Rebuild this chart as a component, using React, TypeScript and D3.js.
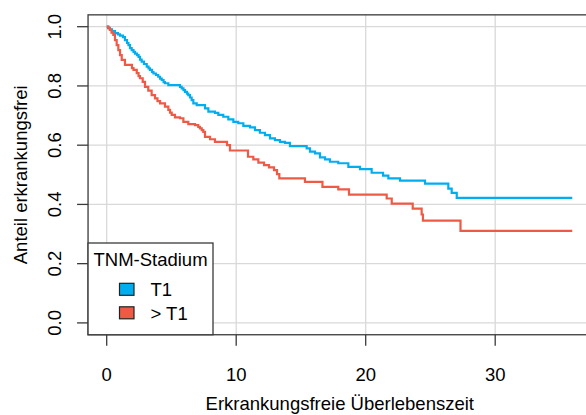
import React from "react";
import * as d3 from "d3";

// Kaplan-Meier step estimates: time of each drop and survival after it
const t1Times = [0.10, 0.25, 0.41, 0.64, 0.87, 1.03, 1.26, 1.41, 1.57, 1.68, 1.80, 1.93, 2.07, 2.19, 2.34, 2.46, 2.57, 2.70, 2.88, 3.09, 3.23, 3.34, 3.50, 3.61, 3.81, 3.98, 4.12, 4.25, 4.39, 4.50, 4.76, 5.66, 5.79, 5.93, 6.05, 6.20, 6.30, 6.43, 6.56, 6.69, 6.95, 7.59, 7.85, 8.36, 8.62, 9.00, 9.39, 9.78, 10.16, 10.55, 11.07, 11.45, 11.83, 12.22, 12.61, 12.99, 13.38, 13.77, 14.15, 15.44, 15.70, 16.09, 16.47, 16.86, 17.24, 17.88, 18.66, 19.56, 20.46, 21.34, 21.75, 22.65, 24.58, 26.38, 26.64, 27.03];
const t1Surv = [0.996, 0.991, 0.985, 0.978, 0.974, 0.970, 0.965, 0.955, 0.945, 0.938, 0.928, 0.921, 0.915, 0.909, 0.904, 0.898, 0.889, 0.882, 0.874, 0.865, 0.859, 0.854, 0.847, 0.842, 0.837, 0.831, 0.825, 0.820, 0.813, 0.809, 0.803, 0.797, 0.792, 0.786, 0.780, 0.774, 0.769, 0.761, 0.752, 0.741, 0.735, 0.724, 0.713, 0.709, 0.702, 0.696, 0.687, 0.679, 0.674, 0.665, 0.660, 0.651, 0.642, 0.634, 0.623, 0.617, 0.611, 0.608, 0.597, 0.589, 0.578, 0.572, 0.559, 0.552, 0.544, 0.539, 0.527, 0.519, 0.507, 0.497, 0.488, 0.480, 0.470, 0.453, 0.439, 0.422];

const gtT1Times = [0.14, 0.25, 0.37, 0.51, 0.64, 0.77, 0.90, 1.03, 1.16, 1.41, 1.95, 2.07, 2.32, 2.46, 2.57, 2.78, 2.96, 3.21, 3.47, 3.73, 3.92, 4.12, 4.50, 4.76, 4.89, 5.02, 5.27, 5.66, 5.92, 6.30, 6.82, 7.07, 7.20, 7.34, 7.46, 7.59, 7.98, 8.36, 9.29, 9.52, 10.91, 11.32, 11.71, 12.15, 12.53, 12.92, 13.15, 13.33, 15.31, 16.66, 17.88, 18.71, 21.62, 22.01, 23.63, 24.32, 24.42, 27.32];
const gtT1Surv = [0.994, 0.989, 0.980, 0.972, 0.955, 0.938, 0.921, 0.904, 0.888, 0.871, 0.860, 0.854, 0.843, 0.833, 0.826, 0.814, 0.797, 0.784, 0.769, 0.758, 0.749, 0.741, 0.730, 0.719, 0.710, 0.702, 0.694, 0.691, 0.679, 0.671, 0.668, 0.662, 0.657, 0.651, 0.645, 0.628, 0.620, 0.611, 0.600, 0.582, 0.561, 0.552, 0.541, 0.533, 0.525, 0.516, 0.502, 0.488, 0.476, 0.459, 0.451, 0.433, 0.420, 0.403, 0.386, 0.366, 0.345, 0.311];

const followUpEnd = 35.95;

const groupNames = ["T1", "> T1"];
const groupColors = ["#00AEEF", "#EE5A45"];
const xTicks = [0, 10, 20, 30];
const yTicks = [0, 0.2, 0.4, 0.6, 0.8, 1.0];

const W = 586;
const H = 415;
const FONT = "'Liberation Sans', Arial, sans-serif";
const FS = 18.5;

export default function App() {
  const x = d3.scaleLinear().domain([0, 36]).range([106.7, 572.9]);
  const y = d3.scaleLinear().domain([0, 1]).range([322.9, 26.7]);
  const box = { left: x(-1.44), right: x(37.44), top: y(1.04), bottom: y(-0.04) };

  const toPoints = (times: number[], surv: number[]) => {
    const pts: [number, number][] = [[0, 1]];
    times.forEach((t, i) => pts.push([t, surv[i]]));
    pts.push([followUpEnd, surv[surv.length - 1]]);
    return pts;
  };
  const series = [toPoints(t1Times, t1Surv), toPoints(gtT1Times, gtT1Surv)];

  const line = d3
    .line<[number, number]>()
    .x((d) => x(d[0]))
    .y((d) => y(d[1]))
    .curve(d3.curveStepAfter);

  const axisColor = "#3a3a3a";
  const gridColor = "#d9d9d9";

  const legend = { left: box.left, right: 213, top: 243, bottom: box.bottom };

  return (
    <svg
      width={W}
      height={H}
      style={{ position: "absolute", left: 0, top: 0, background: "#fff" }}
      fontFamily={FONT}
    >
      <rect x={0} y={0} width={W} height={H} fill="#fff" />
      {/* grid */}
      {xTicks.map((t) => (
        <line key={"gx" + t} x1={x(t)} x2={x(t)} y1={box.top} y2={box.bottom} stroke={gridColor} strokeWidth={1.3} />
      ))}
      {yTicks.map((t) => (
        <line key={"gy" + t} x1={box.left} x2={box.right} y1={y(t)} y2={y(t)} stroke={gridColor} strokeWidth={1.3} />
      ))}

      {/* survival curves */}
      {series.map((pts, i) => (
        <path key={i} d={line(pts) || ""} fill="none" stroke={groupColors[i]} strokeWidth={2.2} />
      ))}

      {/* plot frame */}
      <rect
        x={box.left}
        y={box.top}
        width={box.right - box.left}
        height={box.bottom - box.top}
        fill="none"
        stroke={axisColor}
        strokeWidth={1.3}
      />

      {/* x axis */}
      {xTicks.map((t) => (
        <g key={"xt" + t}>
          <line x1={x(t)} x2={x(t)} y1={box.bottom} y2={box.bottom + 11} stroke={axisColor} strokeWidth={1.3} />
          <text x={x(t)} y={380.7} textAnchor="middle" fontSize={FS} fill="#000">
            {t}
          </text>
        </g>
      ))}
      <text x={(box.left + box.right) / 2} y={410} textAnchor="middle" fontSize={FS} fill="#000">
        Erkrankungsfreie Überlebenszeit
      </text>

      {/* y axis */}
      {yTicks.map((t) => (
        <g key={"yt" + t}>
          <line x1={box.left - 11} x2={box.left} y1={y(t)} y2={y(t)} stroke={axisColor} strokeWidth={1.3} />
          <text
            transform={`translate(61,${y(t)}) rotate(-90)`}
            textAnchor="middle"
            fontSize={FS}
            fill="#000"
          >
            {t.toFixed(1)}
          </text>
        </g>
      ))}
      <text
        transform={`translate(27,${(box.top + box.bottom) / 2}) rotate(-90)`}
        textAnchor="middle"
        fontSize={FS}
        fill="#000"
      >
        Anteil erkrankungsfrei
      </text>

      {/* legend */}
      <rect
        x={legend.left}
        y={legend.top}
        width={legend.right - legend.left}
        height={legend.bottom - legend.top}
        fill="#fff"
        stroke={axisColor}
        strokeWidth={1.3}
      />
      <text x={(legend.left + legend.right) / 2} y={266} textAnchor="middle" fontSize={FS} fill="#000">
        TNM-Stadium
      </text>
      {groupNames.map((g, i) => (
        <g key={g}>
          <rect x={119.5} y={283.3 + i * 23.5} width={14.5} height={12} fill={groupColors[i]} stroke="#222" strokeWidth={1.2} />
          <text x={150.5} y={295.7 + i * 23.8} fontSize={FS} fill="#000">
            {g}
          </text>
        </g>
      ))}
    </svg>
  );
}
